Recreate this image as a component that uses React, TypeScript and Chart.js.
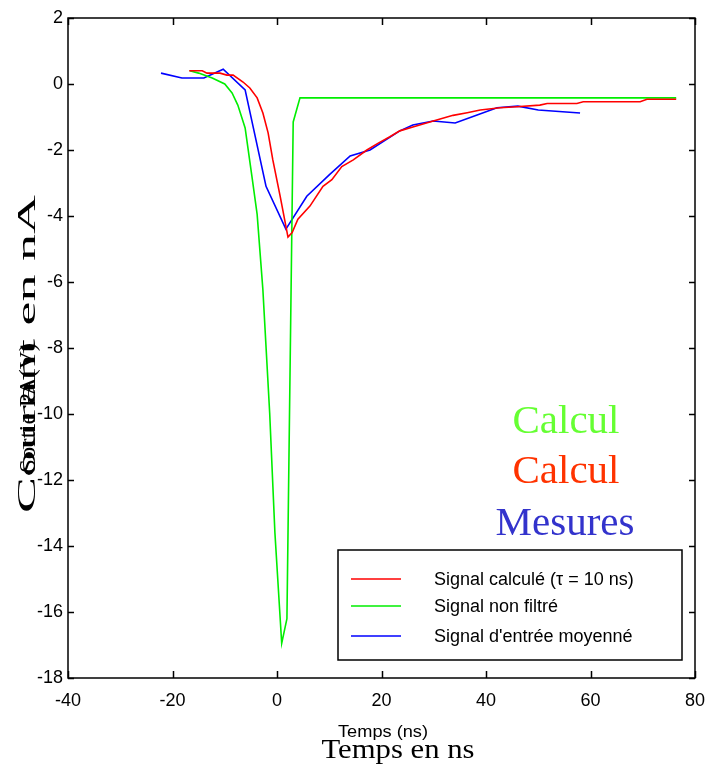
import React, { useEffect, useRef } from "react";
import { Chart, registerables } from "chart.js";

Chart.register(...registerables);

// ---- Data ----
const xTicks = [-40, -20, 0, 20, 40, 60, 80];
const yTicks = [2, 0, -2, -4, -6, -8, -10, -12, -14, -16, -18];

const legendLabels = ["Signal calculé (τ = 10 ns)", "Signal non filtré", "Signal d'entrée moyenné"];

const calcX = [-16.8, -14.3, -13.4, -10.9, -9.6, -8.4, -6.5, -5.2, -3.8, -2.7, -1.7, -0.8, 0.6, 2.1, 2.9, 4.0, 6.3, 8.8, 10.5, 12.4, 14.6, 17.2, 19.3, 21.6, 23.5, 26, 29.9, 33.7, 36.4, 38.9, 42.7, 45.9, 50.3, 51.7, 57.4, 58.6, 69.5, 70.8, 76.4];
const calcY = [0.4, 0.4, 0.33, 0.33, 0.27, 0.27, 0.06, -0.12, -0.42, -0.88, -1.48, -2.3, -3.4, -4.64, -4.5, -4.1, -3.7, -3.1, -2.9, -2.5, -2.3, -2.0, -1.8, -1.6, -1.42, -1.3, -1.12, -0.95, -0.87, -0.79, -0.72, -0.69, -0.64, -0.59, -0.59, -0.54, -0.54, -0.46, -0.46];

const rawX = [-16.7, -15, -12.4, -10, -8.6, -7.5, -6.1, -4.8, -3.8, -2.7, -1.4, -0.4, 0.9, 1.9, 3.1, 4.4, 76.4];
const rawY = [0.4, 0.33, 0.18, 0, -0.27, -0.64, -1.33, -2.8, -3.95, -6.24, -9.97, -13.6, -16.95, -16.2, -1.15, -0.42, -0.42];

const measX = [-22.2, -18.2, -14.0, -10.3, -6.1, -2.1, 1.7, 5.7, 10.1, 14.0, 17.8, 23.5, 26.0, 29.9, 34.1, 38.3, 42.1, 46.1, 50.0, 58.0];
const measY = [0.33, 0.18, 0.18, 0.45, -0.18, -3.1, -4.4, -3.4, -2.74, -2.18, -2.0, -1.42, -1.24, -1.12, -1.18, -0.94, -0.72, -0.67, -0.79, -0.88];

const zip = (xs: number[], ys: number[]) => xs.map((x, i) => ({ x, y: ys[i] }));

const SANS = "'Liberation Sans', Arial, sans-serif";
const SERIF = "'Liberation Serif', 'Times New Roman', serif";

const decorPlugin = {
  id: "decor",
  afterDraw(chart: any) {
    const { ctx, chartArea: a, scales } = chart;
    const xs = scales.x;
    const ys = scales.y;
    ctx.save();
    // frame
    ctx.strokeStyle = "#000";
    ctx.lineWidth = 1.5;
    ctx.strokeRect(a.left, a.top, a.right - a.left, a.bottom - a.top);
    // inner ticks
    ctx.beginPath();
    xTicks.forEach((v) => {
      const px = Math.round(xs.getPixelForValue(v)) + 0.5;
      ctx.moveTo(px, a.bottom);
      ctx.lineTo(px, a.bottom - 7);
      ctx.moveTo(px, a.top);
      ctx.lineTo(px, a.top + 7);
    });
    yTicks.forEach((v) => {
      const py = Math.round(ys.getPixelForValue(v)) + 0.5;
      ctx.moveTo(a.left, py);
      ctx.lineTo(a.left + 6, py);
      ctx.moveTo(a.right, py);
      ctx.lineTo(a.right - 6, py);
    });
    ctx.stroke();

    // legend box
    const lx = 338, ly = 550, lw = 344, lh = 110;
    ctx.fillStyle = "#fff";
    ctx.fillRect(lx, ly, lw, lh);
    ctx.strokeStyle = "#000";
    ctx.lineWidth = 1.5;
    ctx.strokeRect(lx, ly, lw, lh);
    const rows = [579, 606, 636];
    chart.data.datasets.forEach((ds: any, i: number) => {
      ctx.strokeStyle = ds.borderColor;
      ctx.lineWidth = 1.5;
      ctx.beginPath();
      ctx.moveTo(351, rows[i]);
      ctx.lineTo(401, rows[i]);
      ctx.stroke();
      ctx.fillStyle = "#000";
      ctx.font = `18px ${SANS}`;
      ctx.textAlign = "left";
      ctx.textBaseline = "middle";
      ctx.fillText(ds.label, 434, rows[i] + 1);
    });

    // overlay words
    ctx.font = `41px ${SERIF}`;
    ctx.textAlign = "center";
    ctx.textBaseline = "alphabetic";
    ctx.fillStyle = "#66ff33";
    ctx.fillText("Calcul", 566, 433);
    ctx.fillStyle = "#ff3300";
    ctx.fillText("Calcul", 566, 483);
    ctx.fillStyle = "#3333cc";
    ctx.fillText("Mesures", 565, 535);

    // fitted text helper (stretched along its direction)
    const drawFit = (text: string, cx: number, cy: number, size: number, len: number, family: string, rot: number) => {
      ctx.save();
      ctx.font = `${size}px ${family}`;
      const w = ctx.measureText(text).width;
      ctx.translate(cx, cy);
      ctx.rotate(rot);
      ctx.scale(len / w, 1);
      ctx.textAlign = "center";
      ctx.textBaseline = "alphabetic";
      ctx.fillStyle = "#000";
      ctx.fillText(text, 0, 0);
      ctx.restore();
    };

    // x titles
    drawFit("Temps (ns)", 383, 737, 17, 90, SANS, 0);
    drawFit("Temps en ns", 398, 758, 27, 153, SERIF, 0);

    // y titles (overlapping, stretched)
    drawFit("Courant en nA", 35, 354, 26, 318, SERIF, -Math.PI / 2);
    drawFit("Sortie PA(V)", 35, 408, 24, 130, SERIF, -Math.PI / 2);

    ctx.restore();
  },
};

export default function App() {
  const ref = useRef<HTMLCanvasElement | null>(null);
  useEffect(() => {
    if (!ref.current) return;
    const chart = new Chart(ref.current, {
      type: "line",
      data: {
        datasets: [
          { label: legendLabels[0], data: zip(calcX, calcY), borderColor: "#ff0000", borderWidth: 1.6, pointRadius: 0, tension: 0, fill: false },
          { label: legendLabels[1], data: zip(rawX, rawY), borderColor: "#00ee00", borderWidth: 1.6, pointRadius: 0, tension: 0, fill: false },
          { label: legendLabels[2], data: zip(measX, measY), borderColor: "#0000ff", borderWidth: 1.6, pointRadius: 0, tension: 0, fill: false },
        ],
      },
      options: {
        animation: false,
        responsive: true,
        maintainAspectRatio: false,
        layout: { padding: { top: 18, right: 30, left: 0, bottom: 0 } },
        plugins: { legend: { display: false }, tooltip: { enabled: false } },
        scales: {
          x: {
            type: "linear",
            min: -40,
            max: 80,
            afterBuildTicks: (s: any) => { s.ticks = xTicks.map((v) => ({ value: v })); },
            afterFit: (s: any) => { s.height = 86; },
            grid: { display: false, drawTicks: false },
            border: { display: false },
            ticks: { color: "#000", font: { family: SANS, size: 18 }, padding: 12, maxRotation: 0 },
          },
          y: {
            type: "linear",
            min: -18,
            max: 2,
            afterBuildTicks: (s: any) => { s.ticks = yTicks.map((v) => ({ value: v })); },
            afterFit: (s: any) => { s.width = 68; },
            grid: { display: false, drawTicks: false },
            border: { display: false },
            ticks: { color: "#000", font: { family: SANS, size: 18 }, padding: 5 },
          },
        },
      },
      plugins: [decorPlugin],
    } as any);
    return () => chart.destroy();
  }, []);
  return (
    <div style={{ position: "fixed", left: 0, top: 0, width: 725, height: 764, background: "#fff" }}>
      <canvas ref={ref} />
    </div>
  );
}
